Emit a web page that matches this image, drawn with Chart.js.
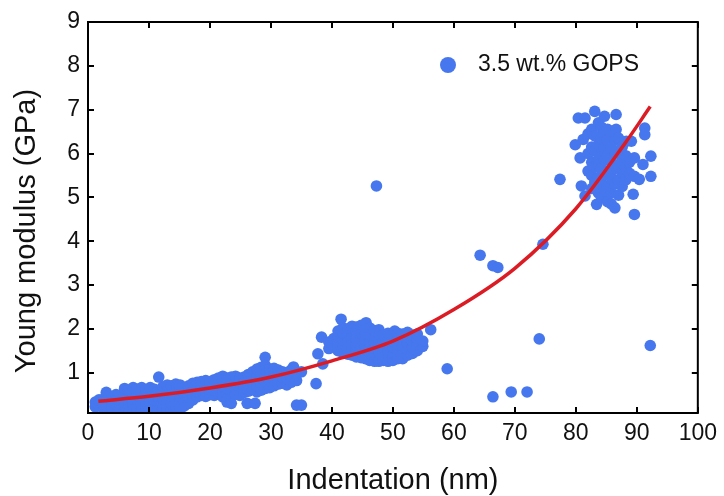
<!DOCTYPE html>
<html>
<head>
<meta charset="utf-8">
<script src="https://cdn.jsdelivr.net/npm/chart.js@4/dist/chart.umd.min.js"></script>
<style>
  html, body { margin: 0; padding: 0; background: #fff; }
</style>
</head>
<body>
<canvas id="myChart" width="724" height="496"></canvas>
<script>
// tick labels
var xTicks = [0, 10, 20, 30, 40, 50, 60, 70, 80, 90, 100];
var yTicks = [1, 2, 3, 4, 5, 6, 7, 8, 9];

var seriesLabel = '3.5 wt.% GOPS';

var shallowPts = [
  [1.2,0.22],[1.2,0.33],[1.8,0.28],[1.8,0.38],
  [2.6,0.15],[2.6,0.27],[2.6,0.40],
  [3.2,0.12],[3.2,0.30],[3.0,0.55],
  [3.9,0.10],[3.9,0.20],[3.9,0.34],[3.9,0.45],
  [4.6,0.14],[4.6,0.28],[4.6,0.40],[4.6,0.50],
  [5.3,0.10],[5.3,0.22],[5.3,0.35],[5.3,0.48],
  [6.0,0.12],[6.0,0.25],[6.0,0.38],[6.0,0.52],[6.0,0.64],
  [6.7,0.10],[6.7,0.20],[6.7,0.33],[6.7,0.45],[6.7,0.60],
  [7.4,0.15],[7.4,0.28],[7.4,0.40],[7.4,0.55],[7.4,0.66],
  [8.1,0.10],[8.1,0.22],[8.1,0.36],[8.1,0.48],[8.1,0.62],
  [8.8,0.12],[8.8,0.26],[8.8,0.42],[8.8,0.56],[8.8,0.66],
  [9.5,0.10],[9.5,0.20],[9.5,0.33],[9.5,0.47],[9.5,0.60],
  [10.2,0.14],[10.2,0.28],[10.2,0.40],[10.2,0.52],[10.2,0.66],
  [10.9,0.11],[10.9,0.24],[10.9,0.37],[10.9,0.50],[10.9,0.62],
  [11.6,0.16],[11.6,0.30],[11.6,0.45],[11.6,0.57],[11.6,0.90],
  [12.3,0.12],[12.3,0.26],[12.3,0.40],[12.3,0.55],[12.3,0.68],
  [13.0,0.18],[13.0,0.32],[13.0,0.46],[13.0,0.60],[13.0,0.72],
  [13.7,0.14],[13.7,0.28],[13.7,0.42],[13.7,0.58],[13.7,0.70],
  [14.4,0.20],[14.4,0.34],[14.4,0.50],[14.4,0.64],[14.4,0.74],
  [15.1,0.16],[15.1,0.30],[15.1,0.46],[15.1,0.60],[15.1,0.72],
  [15.8,0.24],[15.8,0.38],[15.8,0.52],[15.8,0.66],
  [16.5,0.30],[16.5,0.44],[16.5,0.58],[16.5,0.70],
  [17.2,0.38],[17.2,0.50],[17.2,0.64],[17.2,0.76],
  [17.9,0.45],[17.9,0.56],[17.9,0.68],[17.9,0.78],
  [18.6,0.48],[18.6,0.60],[18.6,0.72],[18.6,0.80],
  [19.3,0.46],[19.3,0.58],[19.3,0.70],[19.3,0.82],
  [20.0,0.50],[20.0,0.62],[20.0,0.74],[20.0,0.80],
  [20.7,0.48],[20.7,0.60],[20.7,0.72],[20.7,0.84],
  [21.4,0.52],[21.4,0.66],[21.4,0.78],[21.4,0.88],
  [22.1,0.45],[22.1,0.58],[22.1,0.70],[22.1,0.82],[22.1,0.92],
  [22.8,0.33],[22.8,0.50],[22.8,0.64],[22.8,0.76],[22.8,0.88],
  [23.5,0.30],[23.5,0.46],[23.5,0.60],[23.5,0.74],[23.5,0.90],
  [24.2,0.52],[24.2,0.66],[24.2,0.80],[24.2,0.92],
  [24.9,0.48],[24.9,0.62],[24.9,0.76],[24.9,0.88],
  [25.6,0.55],[25.6,0.68],[25.6,0.82],[25.6,0.90],
  [26.1,0.30],[27.4,0.30],
  [26.3,0.58],[26.3,0.72],[26.3,0.86],[26.3,0.96],
  [27.0,0.62],[27.0,0.76],[27.0,0.90],[27.0,1.02],
  [27.7,0.56],[27.7,0.70],[27.7,0.84],[27.7,0.98],[27.7,1.08],
  [28.4,0.60],[28.4,0.74],[28.4,0.88],[28.4,1.00],[28.4,1.12],
  [29.05,1.35],
  [29.1,0.64],[29.1,0.78],[29.1,0.92],[29.1,1.06],[29.1,1.16],
  [29.8,0.66],[29.8,0.80],[29.8,0.94],[29.8,1.08],
  [30.5,0.70],[30.5,0.84],[30.5,0.98],[30.5,1.10],
  [31.2,0.74],[31.2,0.86],[31.2,0.98],[31.2,1.06],
  [31.9,0.76],[31.9,0.90],[31.9,1.02],
  [32.6,0.72],[32.6,0.86],[32.6,1.00],
  [33.3,0.78],[33.3,0.92],[33.3,1.06],
  [33.7,1.13],[34.2,0.82],[34.2,0.96],[35.0,1.02],
  [34.2,0.26],[35.0,0.26]
];

var midPts = [
  [37.4,0.75],[37.7,1.43],[38.3,1.81],[38.5,1.20],
  [39.5,1.55],[39.5,1.70],[40.3,1.62],[40.3,1.78],
  [41.0,1.50],[41.0,1.66],[41.0,1.82],[41.0,1.95],[41.5,2.22],
  [41.8,1.45],[41.8,1.60],[41.8,1.75],[41.8,1.90],[41.8,2.02],
  [42.6,1.42],[42.6,1.56],[42.6,1.72],[42.6,1.86],[42.6,2.00],
  [43.3,1.40],[43.3,1.54],[43.3,1.68],[43.3,1.82],[43.3,1.96],[43.3,2.06],
  [44.0,1.36],[44.0,1.50],[44.0,1.64],[44.0,1.78],[44.0,1.92],[44.0,2.04],
  [44.8,1.34],[44.8,1.48],[44.8,1.62],[44.8,1.76],[44.8,1.90],[44.8,2.08],
  [45.5,1.32],[45.5,1.46],[45.5,1.60],[45.5,1.74],[45.5,1.88],[45.5,2.00],[45.6,2.14],
  [46.2,1.28],[46.2,1.44],[46.2,1.58],[46.2,1.72],[46.2,1.86],[46.2,2.02],
  [47.0,1.26],[47.0,1.42],[47.0,1.56],[47.0,1.70],[47.0,1.84],[47.0,1.96],
  [47.7,1.26],[47.7,1.46],[47.7,1.60],[47.7,1.74],[47.7,1.88],[47.7,1.98],
  [48.4,1.28],[48.4,1.44],[48.4,1.58],[48.4,1.72],[48.4,1.86],
  [49.2,1.26],[49.2,1.48],[49.2,1.62],[49.2,1.76],[49.2,1.90],
  [50.0,1.28],[50.0,1.44],[50.0,1.58],[50.0,1.72],[50.0,1.88],[50.3,1.95],
  [50.8,1.32],[50.8,1.50],[50.8,1.64],[50.8,1.78],[50.8,1.90],
  [51.6,1.32],[51.6,1.46],[51.6,1.60],[51.6,1.74],[51.6,1.88],
  [52.4,1.40],[52.4,1.54],[52.4,1.68],[52.4,1.82],[52.4,1.92],
  [53.2,1.44],[53.2,1.58],[53.2,1.72],[53.2,1.86],
  [54.0,1.50],[54.0,1.64],[54.0,1.78],[54.0,1.88],
  [54.9,1.60],[54.9,1.72],[56.2,1.98],[58.9,1.09]
];

var deepPts = [
  [77.4,5.41],[79.9,6.20],[80.4,6.81],[80.7,5.90],[80.9,5.26],
  [81.2,6.32],[81.5,6.81],[81.5,5.03],
  [82.0,5.60],[82.0,6.00],[82.0,6.45],
  [82.6,5.20],[82.6,5.50],[82.6,5.80],[82.6,6.15],[82.6,6.55],
  [83.1,6.96],[83.4,4.84],[83.1,5.35],[83.1,5.70],[83.1,6.05],[83.1,6.40],
  [83.7,5.10],[83.7,5.45],[83.7,5.85],[83.7,6.20],[83.7,6.70],
  [84.2,5.00],[84.2,5.30],[84.2,5.65],[84.2,6.00],[84.2,6.35],[84.2,6.60],
  [84.7,6.85],[84.7,5.15],[84.7,5.50],[84.7,5.85],[84.7,6.15],[84.7,6.50],
  [85.2,4.90],[85.2,5.25],[85.2,5.60],[85.2,5.95],[85.2,6.30],[85.2,6.55],
  [85.8,4.85],[85.8,5.10],[85.8,5.45],[85.8,5.80],[85.8,6.10],[85.8,6.40],
  [86.4,4.76],[86.4,5.30],[86.4,5.65],[86.4,6.00],[86.4,6.30],[86.6,6.89],[86.6,6.55],
  [87.0,5.05],[87.0,5.40],[87.0,5.75],[87.0,6.05],[87.0,6.35],
  [87.6,5.25],[87.6,5.55],[87.6,5.85],[87.6,6.15],
  [88.2,5.40],[88.2,5.70],[88.2,5.95],[88.3,6.28],
  [88.8,5.55],[88.8,5.80],[89.1,6.28],
  [89.4,5.07],[89.6,5.90],[89.6,4.61],[89.6,5.48],
  [90.4,5.41],[91.0,5.75],[91.3,6.58],[91.3,6.43],
  [92.3,5.94],[92.3,5.48]
];

var outlierPts = [
  [47.3,5.26],[64.3,3.68],[66.4,3.44],[67.2,3.40],[74.6,3.93],
  [74.0,1.77],[66.4,0.45],[69.4,0.56],[72.0,0.56],[92.2,1.62]
];

// exponential fit
var fitX = [1.7, 10, 20, 30, 40, 50, 60, 70, 80, 88, 92.2];
var fitY = [0.35, 0.46, 0.65, 0.90, 1.27, 1.72, 2.44, 3.38, 4.74, 6.22, 7.07];

var dotColor = '#4777ee';
var fitColor = '#dc1c24';
var fontFamily = "'Liberation Sans', Arial, sans-serif";
var tickLen = 6;

function toXY(p) { return { x: p[0], y: p[1] }; }
var scatterData = shallowPts.concat(midPts, deepPts, outlierPts).map(toXY);
var fitData = fitX.map(function (x, i) { return { x: x, y: fitY[i] }; });

// frame with inward ticks on all four sides
var framePlugin = {
  id: 'frame',
  afterDatasetsDraw: function (chart) {
    var ctx = chart.ctx, a = chart.chartArea;
    var xs = chart.scales.x, ys = chart.scales.y;
    ctx.save();
    ctx.strokeStyle = '#000';
    ctx.lineWidth = 2;
    ctx.strokeRect(a.left, a.top, a.right - a.left, a.bottom - a.top);
    ctx.beginPath();
    xTicks.forEach(function (v) {
      var px = Math.round(xs.getPixelForValue(v));
      ctx.moveTo(px, a.bottom); ctx.lineTo(px, a.bottom - tickLen);
      ctx.moveTo(px, a.top); ctx.lineTo(px, a.top + tickLen);
    });
    yTicks.forEach(function (v) {
      var py = Math.round(ys.getPixelForValue(v));
      ctx.moveTo(a.left, py); ctx.lineTo(a.left + tickLen, py);
      ctx.moveTo(a.right, py); ctx.lineTo(a.right - tickLen, py);
    });
    ctx.stroke();
    ctx.restore();
  },
  afterDraw: function (chart) {
    var ctx = chart.ctx;
    ctx.save();
    // y title sits a bit below the axis middle in the original
    ctx.translate(35, 231);
    ctx.rotate(-Math.PI / 2);
    ctx.fillStyle = '#111';
    ctx.font = '29px ' + fontFamily;
    ctx.textAlign = 'center';
    ctx.textBaseline = 'alphabetic';
    ctx.fillText('Young modulus (GPa)', 0, 0);
    ctx.restore();

    // legend
    ctx.save();
    ctx.fillStyle = dotColor;
    ctx.beginPath();
    ctx.arc(448, 65, 8, 0, Math.PI * 2);
    ctx.fill();
    ctx.fillStyle = '#111';
    ctx.font = '23px ' + fontFamily;
    ctx.textBaseline = 'alphabetic';
    ctx.fillText(chart.data.datasets[1].label, 478, 71);
    ctx.restore();
  }
};

var element = document.getElementById('myChart').getContext('2d');

var chart = new Chart(element, {
  type: 'scatter',
  data: {
    datasets: [{
      label: 'fit',
      data: fitData,
      showLine: true,
      borderColor: fitColor,
      borderWidth: 3.5,
      pointRadius: 0,
      cubicInterpolationMode: 'monotone',
      order: 0
    }, {
      label: seriesLabel,
      data: scatterData,
      backgroundColor: dotColor,
      borderWidth: 0,
      pointRadius: 5.8,
      order: 1
    }]
  },
  options: {
    responsive: false,
    animation: false,
    layout: { padding: { top: 22, right: 22, left: 0, bottom: 0 } },
    plugins: { legend: { display: false }, tooltip: { enabled: false } },
    scales: {
      x: {
        type: 'linear',
        min: 0, max: 100,
        afterFit: function (s) { s.height = 83; },
        afterBuildTicks: function (s) { s.ticks = xTicks.map(function (v) { return { value: v }; }); },
        grid: { display: false, drawTicks: false },
        border: { display: false },
        ticks: { padding: 7, color: '#111', font: { family: fontFamily, size: 23 }, maxRotation: 0 },
        title: {
          display: true, text: 'Indentation (nm)', color: '#111',
          font: { family: fontFamily, size: 29, lineHeight: 1 }, padding: { top: 0, bottom: 1 }
        }
      },
      y: {
        type: 'linear',
        min: 0.08, max: 9,
        afterFit: function (s) { s.width = 88; },
        afterBuildTicks: function (s) { s.ticks = yTicks.map(function (v) { return { value: v }; }); },
        grid: { display: false, drawTicks: false },
        border: { display: false },
        ticks: { padding: 8, color: '#111', font: { family: fontFamily, size: 23 } }
      }
    }
  },
  plugins: [framePlugin]
});
</script>
</body>
</html>
